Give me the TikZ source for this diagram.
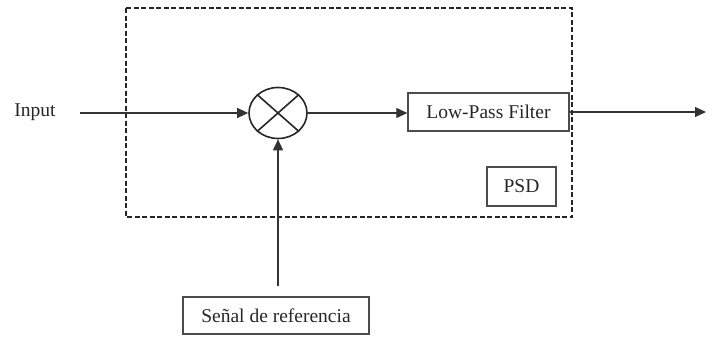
\documentclass[tikz,border=0pt]{standalone}
\usepackage{fontspec}
\setmainfont{Liberation Serif}
\usetikzlibrary{arrows.meta,shapes.geometric}
\begin{document}
\begin{tikzpicture}[x=1pt,y=-1pt,
  every node/.style={font=\fontsize{19.5}{22}\selectfont, text=black!85},
  blk/.style={draw=black!70, line width=1.3pt, inner sep=0pt},
  conn/.style={line width=1.2pt, draw=black!80, -{Triangle[length=11pt,width=10pt]}},
  dbox/.style={draw=black!85, line width=2pt, dash pattern=on 5pt off 2.5pt}]
\useasboundingbox (0,0) rectangle (724,338);
\draw[dbox] (126,8) rectangle (572,217);
\node[blk, ellipse, minimum width=58pt, minimum height=51pt, line width=1.6pt, draw=black!85] (mix) at (278,113) {};
\draw[line width=1.6pt, black!85] (mix.north west) -- (mix.south east) (mix.north east) -- (mix.south west);
\node (in) at (35,112) {Input};
\node[blk, minimum width=161pt, minimum height=38pt] (lpf) at (488.5,112) {Low-Pass Filter};
\node[blk, minimum width=69pt, minimum height=39pt] (psd) at (521.5,186.5) {PSD};
\node[blk, minimum width=186pt, minimum height=37pt] (ref) at (276,315.5) {Señal de referencia};
\coordinate (inS) at (80,113);
\coordinate (outE) at (706,112);
\coordinate (refT) at (278,286);
\draw[conn] (inS) -- (mix.west);
\draw[conn] (mix.east) -- (lpf.west |- mix.east);
\draw[conn] (lpf.east) -- (outE);
\draw[conn] (refT) -- (mix.south);
\end{tikzpicture}
\end{document}
